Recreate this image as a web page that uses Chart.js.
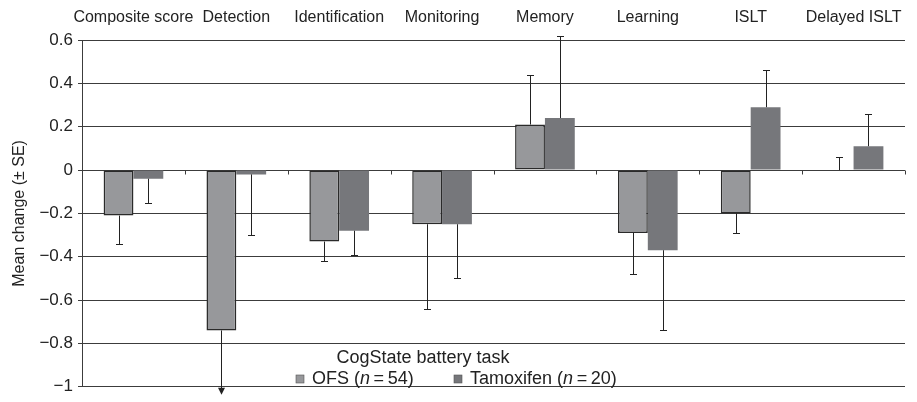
<!DOCTYPE html>
<html>
<head>
<meta charset="utf-8">
<script src="https://cdn.jsdelivr.net/npm/chart.js@4/dist/chart.umd.min.js"></script>
<style>
  html, body { margin: 0; padding: 0; background: #fff; }
  #wrap { width: 917px; height: 402px; }
</style>
</head>
<body>
<div id="wrap"><canvas id="chart" width="917" height="402"></canvas></div>
<script>
(function () {
  'use strict';

  const categories = ['Composite score', 'Detection', 'Identification', 'Monitoring',
    'Memory', 'Learning', 'ISLT', 'Delayed ISLT'];
  // mean change per task
  const ofsValues = [-0.21, -0.74, -0.33, -0.25, 0.21, -0.29, -0.20, 0.00];
  const tamValues = [-0.04, -0.02, -0.28, -0.25, 0.24, -0.37, 0.29, 0.11];
  // standard errors (drawn one-sided, away from zero)
  const ofsSE = [0.13, 0.40, 0.09, 0.39, 0.23, 0.19, 0.09, 0.06];
  const tamSE = [0.11, 0.28, 0.11, 0.25, 0.38, 0.37, 0.17, 0.15];
  const yTicks = [0.6, 0.4, 0.2, 0, -0.2, -0.4, -0.6, -0.8, -1];

  const FONT = 'Liberation Sans, Arial, Helvetica, sans-serif';
  const INK = '#222';
  const GRID = '#3c3c3c';

  function fmtTick(v) {
    const r = Math.round(v * 10) / 10;
    if (r === 0) return '0';
    let s = Number.isInteger(r) ? String(Math.abs(r)) : Math.abs(r).toFixed(1);
    return r < 0 ? '\u2212' + s : s;
  }

  // one-sided error bars, with an arrow when the bar runs off the scale
  const errorBars = {
    id: 'errorBars',
    afterDatasetsDraw(chart) {
      const ctx = chart.ctx;
      const y = chart.scales.y;
      const area = chart.chartArea;
      const seSets = [ofsSE, tamSE];
      ctx.save();
      ctx.strokeStyle = INK;
      ctx.fillStyle = INK;
      ctx.lineWidth = 1;
      chart.data.datasets.forEach(function (ds, di) {
        const meta = chart.getDatasetMeta(di);
        meta.data.forEach(function (bar, i) {
          const v = ds.data[i];
          const dir = v >= 0 ? 1 : -1;
          const end = v + dir * seSets[di][i];
          const x = Math.round(bar.x) + 0.5;
          const y0 = y.getPixelForValue(v);
          if (end < y.min) {
            const tip = area.bottom + 8;
            ctx.beginPath();
            ctx.moveTo(x, y0);
            ctx.lineTo(x, tip - 5);
            ctx.stroke();
            ctx.beginPath();
            ctx.moveTo(x - 3.5, tip - 7);
            ctx.lineTo(x + 3.5, tip - 7);
            ctx.lineTo(x, tip);
            ctx.closePath();
            ctx.fill();
          } else {
            const y1 = Math.round(y.getPixelForValue(end)) + 0.5;
            ctx.beginPath();
            ctx.moveTo(x, y0);
            ctx.lineTo(x, y1);
            ctx.moveTo(x - 3.5, y1);
            ctx.lineTo(x + 3.5, y1);
            ctx.stroke();
          }
        });
      });
      ctx.restore();
    }
  };

  // small category tick marks hanging under the zero line
  const zeroTicks = {
    id: 'zeroTicks',
    beforeDatasetsDraw(chart) {
      const ctx = chart.ctx;
      const xs = chart.scales.x;
      const y0 = Math.round(chart.scales.y.getPixelForValue(0)) + 0.5;
      ctx.save();
      ctx.strokeStyle = GRID;
      ctx.lineWidth = 1;
      ctx.beginPath();
      for (let i = 1; i <= categories.length; i++) {
        const x = Math.round(xs.getPixelForValue(i - 0.5)) + 0.5;
        ctx.moveTo(x, y0);
        ctx.lineTo(x, y0 + 4);
      }
      ctx.stroke();
      ctx.restore();
    }
  };

  // legend with title and italic n
  const legendBox = {
    id: 'legendBox',
    afterDraw(chart) {
      const ctx = chart.ctx;
      ctx.save();
      ctx.fillStyle = INK;
      ctx.textBaseline = 'middle';
      ctx.font = '18px ' + FONT;
      ctx.textAlign = 'center';
      ctx.fillText('CogState battery task', 423, 358);
      ctx.textAlign = 'left';
      const items = [
        { x: 296, color: chart.data.datasets[0].backgroundColor, label: 'OFS (', n: '54' },
        { x: 454, color: chart.data.datasets[1].backgroundColor, label: 'Tamoxifen (', n: '20' }
      ];
      const yc = 379;
      items.forEach(function (it) {
        ctx.fillStyle = it.color;
        ctx.fillRect(it.x, yc - 4, 8, 8);
        ctx.strokeStyle = '#555';
        ctx.lineWidth = 0.6;
        ctx.strokeRect(it.x, yc - 4, 8, 8);
        ctx.fillStyle = INK;
        let tx = it.x + 16;
        ctx.font = '18px ' + FONT;
        ctx.fillText(it.label, tx, yc);
        tx += ctx.measureText(it.label).width;
        ctx.font = 'italic 18px ' + FONT;
        ctx.fillText('n', tx, yc);
        tx += ctx.measureText('n').width;
        ctx.font = '18px ' + FONT;
        const rest = '\u2009=\u2009' + it.n + ')';
        ctx.fillText(rest, tx, yc);
      });
      ctx.restore();
    }
  };

  new Chart(document.getElementById('chart'), {
    type: 'bar',
    data: {
      labels: categories,
      datasets: [
        {
          label: 'OFS (n=54)',
          data: ofsValues,
          backgroundColor: '#97989b',
          borderColor: '#2a2a2a',
          borderWidth: 1.5,
          borderSkipped: false
        },
        {
          label: 'Tamoxifen (n=20)',
          data: tamValues,
          backgroundColor: '#76777b',
          borderWidth: 0
        }
      ]
    },
    options: {
      responsive: false,
      animation: false,
      categoryPercentage: 0.58,
      barPercentage: 1.0,
      layout: { padding: { left: 0, right: 12, top: 0, bottom: 12 } },
      plugins: {
        legend: { display: false },
        tooltip: { enabled: false }
      },
      scales: {
        x: {
          position: 'top',
          grid: { display: false, drawTicks: false },
          border: { display: false },
          ticks: {
            autoSkip: false,
            maxRotation: 0,
            padding: 13,
            color: INK,
            font: { family: FONT, size: 16 }
          },
          afterFit: function (s) { s.height = 40; }
        },
        y: {
          min: -1,
          max: 0.6,
          afterBuildTicks: function (s) {
            s.ticks = yTicks.map(function (v) { return { value: v }; });
          },
          ticks: {
            padding: 5,
            color: INK,
            font: { family: FONT, size: 17 },
            callback: function (v) { return fmtTick(v); }
          },
          grid: { color: GRID, lineWidth: 1, tickLength: 4 },
          border: { color: GRID, width: 1 },
          title: {
            display: true,
            text: 'Mean change (\u00b1 SE)',
            color: INK,
            font: { family: FONT, size: 16 },
            padding: { top: 10, bottom: 0 }
          },
          afterFit: function (s) { s.width = 82; }
        }
      }
    },
    plugins: [zeroTicks, errorBars, legendBox]
  });
})();
</script>
</body>
</html>
